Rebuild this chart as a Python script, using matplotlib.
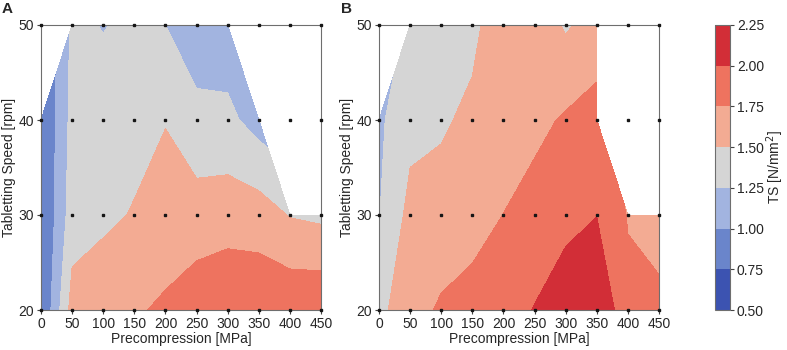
import numpy as np
import matplotlib
matplotlib.use("Agg")
import matplotlib.pyplot as plt
from matplotlib.colors import ListedColormap

plt.rcParams['font.family'] = ['Liberation Sans', 'DejaVu Sans']
plt.rcParams['text.color'] = '#262626'
plt.rcParams['axes.labelcolor'] = '#262626'
plt.rcParams['xtick.color'] = '#262626'
plt.rcParams['ytick.color'] = '#262626'

# Grid of design points
precompression = [0, 50, 100, 150, 200, 250, 300, 350, 400, 450]   # MPa
speed = [20, 30, 40, 50]                                             # rpm
nan = np.nan

# Tensile strength TS [N/mm^2], panel A (rows = speed 20,30,40,50)
ts_a_20 = [0.72, 1.60, 1.69, 1.72, 1.79, 1.90, 1.95, 1.945, 1.95, 1.96]
ts_a_30 = [0.71, 1.38, 1.44, 1.52, 1.60, 1.61, 1.64, 1.62, 1.487, 1.45]
ts_a_40 = [0.72, 1.33, 1.35, 1.40, 1.49, 1.325, 1.31, 1.15, nan, nan]
ts_a_50 = [nan, 1.30, 1.24, 1.30, 1.249, 1.10, 1.10, nan, nan, nan]

# Panel B
ts_b_20 = [1.43, 1.664, 1.78, 1.827, 1.90, 2.01, 2.20, 2.25, 1.81, 1.827]
ts_b_30 = [1.24, 1.573, 1.61, 1.67, 1.752, 1.85, 1.90, 1.995, 1.735, 1.62]
ts_b_40 = [1.206, 1.427, 1.463, 1.56, 1.65, 1.683, 1.78, 1.85, nan, nan]
ts_b_50 = [nan, 1.30, 1.38, 1.43, 1.68, 1.65, 1.47, 1.60, nan, nan]

levels = [0.50, 0.75, 1.00, 1.25, 1.50, 1.75, 2.00, 2.25]
xticks = [0, 50, 100, 150, 200, 250, 300, 350, 400, 450]
yticks = [20, 30, 40, 50]

band_colors = ['#3c53b1', '#6a85cb', '#a2b4e0', '#d5d5d5',
               '#f3ab93', '#ee735f', '#d22e37']
cmap = ListedColormap(band_colors)

W, H = 787, 350
fig = plt.figure(figsize=(W / 100, H / 100), dpi=100)

def px_axes(left, top, right, bottom):
    return fig.add_axes([left / W, 1 - bottom / H, (right - left) / W, (bottom - top) / H])

axA = px_axes(41, 25, 321, 310)
axB = px_axes(379, 25, 659, 310)
cax = px_axes(715, 25, 730, 310)

X, Y = np.meshgrid(precompression, speed)
spine_col = '#6e6e6e'

cs = None
for ax, rows in [(axA, [ts_a_20, ts_a_30, ts_a_40, ts_a_50]),
                 (axB, [ts_b_20, ts_b_30, ts_b_40, ts_b_50])]:
    Z = np.ma.masked_invalid(np.array(rows, dtype=float))
    cs = ax.contourf(X, Y, Z, levels=levels, cmap=cmap, corner_mask=True)
    ax.plot(X.ravel(), Y.ravel(), linestyle='none', marker='s', markersize=1.7,
            color='#151515', clip_on=False, zorder=5)
    ax.set_xlim(0, 450)
    ax.set_ylim(20, 50)
    ax.set_xticks(xticks)
    ax.set_yticks(yticks)
    ax.tick_params(labelsize=10, length=3, width=0.8, color='#444444', pad=2)
    ax.set_xlabel('Precompression [MPa]', fontsize=10, labelpad=1)
    ax.set_ylabel('Tabletting Speed [rpm]', fontsize=10, labelpad=2)
    for s in ax.spines.values():
        s.set_color(spine_col)
        s.set_linewidth(0.8)

fig.text(2 / W, 1 - 2 / H, 'A', fontsize=11, fontweight='bold', ha='left', va='top')
fig.text(341 / W, 1 - 2 / H, 'B', fontsize=11, fontweight='bold', ha='left', va='top')

cb = fig.colorbar(cs, cax=cax, ticks=levels)
cb.ax.set_yticklabels(['%.2f' % v for v in levels])
cb.ax.tick_params(labelsize=10, length=3, width=0.8, color='#444444', pad=2)
cb.set_label('TS [N/mm$^2$]', fontsize=10, labelpad=0)
cb.outline.set_edgecolor(spine_col)
cb.outline.set_linewidth(0.8)

fig.savefig('out.png', dpi=100)
